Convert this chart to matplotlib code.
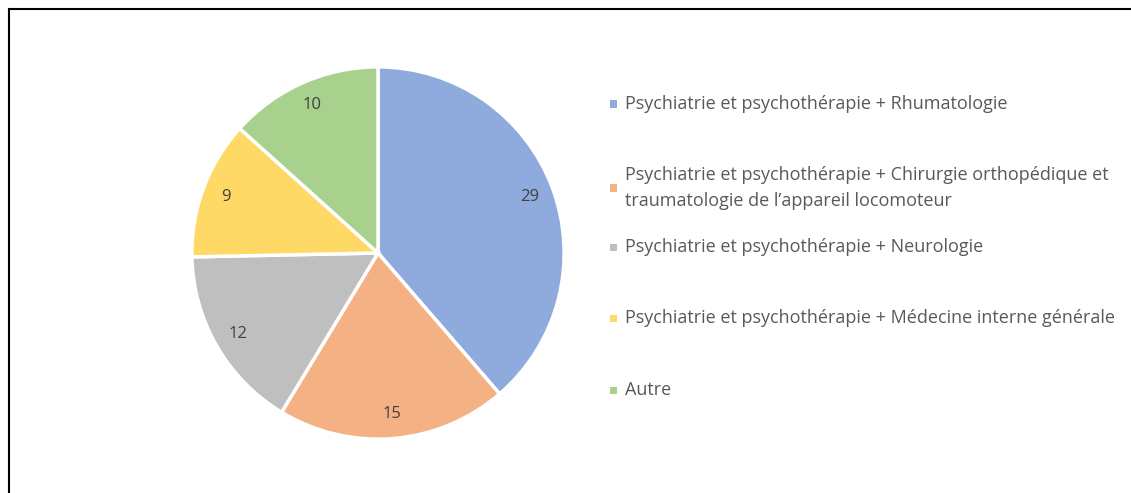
import matplotlib
matplotlib.use("Agg")
import matplotlib.pyplot as plt
from matplotlib.patches import Rectangle
from matplotlib.lines import Line2D

categories = [
    "Psychiatrie et psychothérapie + Rhumatologie",
    "Psychiatrie et psychothérapie + Chirurgie orthopédique et\ntraumatologie de l’appareil locomoteur",
    "Psychiatrie et psychothérapie + Neurologie",
    "Psychiatrie et psychothérapie + Médecine interne générale",
    "Autre",
]
values = [29, 15, 12, 9, 10]
colors = ["#8FAADC", "#F4B183", "#BFBFBF", "#FFD966", "#A9D18E"]

plt.rcParams['font.family'] = ['Open Sans', 'DejaVu Sans']

W, H = 1131, 493
fig = plt.figure(figsize=(W / 100, H / 100), dpi=100)
fig.patch.set_facecolor("white")

# pie axes
cx, cy, r = 378, 253, 188
ax = fig.add_axes([(cx - r) / W, (H - cy - r) / H, 2 * r / W, 2 * r / H])
wedges, texts, autotexts = ax.pie(
    values, colors=colors, startangle=90, counterclock=False,
    wedgeprops=dict(edgecolor="white", linewidth=2.5),
    autopct=lambda p: f"{round(p * sum(values) / 100):d}",
    pctdistance=0.87, radius=1.0,
    textprops=dict(fontsize=12, color="#404040"),
)
ax.set_xlim(-1.01, 1.01)
ax.set_ylim(-1.01, 1.01)
ax.set_aspect("equal")
ax.axis("off")

# legend (manual)
legend_y = [104, 188, 247, 318, 390]
sq = 7
for lab, col, y in zip(categories, colors, legend_y):
    fig.patches.append(Rectangle(((613 - sq / 2) / W, (H - y - sq / 2) / H), sq / W, sq / H,
                                 transform=fig.transFigure, facecolor=col, edgecolor="none"))
    fig.text(625 / W, (H - y) / H, lab, fontsize=13, color="#595959",
             va="center", ha="left", linespacing=1.5)

# border (top and left)
fig.add_artist(Line2D([8.5 / W, 1.0], [1 - 8.5 / H, 1 - 8.5 / H], transform=fig.transFigure,
                      color="black", linewidth=1.5))
fig.add_artist(Line2D([8.5 / W, 8.5 / W], [0, 1 - 8.5 / H], transform=fig.transFigure,
                      color="black", linewidth=1.5))

fig.savefig("out.png", dpi=100, facecolor="white")
